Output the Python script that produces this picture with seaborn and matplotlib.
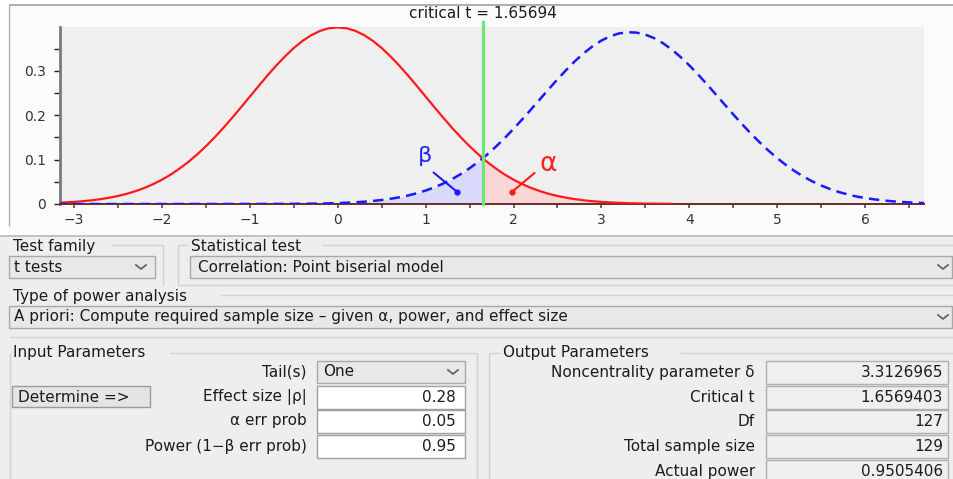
import matplotlib
matplotlib.use("Agg")
import matplotlib.pyplot as plt
import seaborn as sns
import pandas as pd
from matplotlib.patches import Rectangle

# ---------------- data ----------------
t_central = [-3.2, -3.1, -3.0, -2.9, -2.8, -2.7, -2.6, -2.5, -2.4, -2.3, -2.2, -2.1,
             -2.0, -1.9, -1.8, -1.7, -1.6, -1.5, -1.4, -1.3, -1.2, -1.1, -1.0, -0.9,
             -0.8, -0.7, -0.6, -0.5, -0.4, -0.3, -0.2, -0.1, 0.0, 0.1, 0.2, 0.3, 0.4,
             0.5, 0.6, 0.7, 0.8, 0.9, 1.0, 1.1, 1.2, 1.3, 1.4, 1.5, 1.6, 1.7, 1.8, 1.9,
             2.0, 2.1, 2.2, 2.3, 2.4, 2.5, 2.6, 2.7, 2.8, 2.9, 3.0, 3.1, 3.2, 3.3, 3.4,
             3.5, 3.6, 3.7, 3.8]
pdf_central = [0.0026, 0.0036, 0.0048, 0.0063, 0.0083, 0.0109, 0.0141, 0.0181, 0.0230,
               0.0290, 0.0362, 0.0448, 0.0548, 0.0664, 0.0798, 0.0948, 0.1117, 0.1302,
               0.1503, 0.1719, 0.1946, 0.2181, 0.2421, 0.2661, 0.2896, 0.3120, 0.3328,
               0.3516, 0.3677, 0.3807, 0.3903, 0.3962, 0.3981, 0.3962, 0.3903, 0.3807,
               0.3677, 0.3516, 0.3328, 0.3120, 0.2896, 0.2661, 0.2421, 0.2181, 0.1946,
               0.1719, 0.1503, 0.1302, 0.1117, 0.0948, 0.0798, 0.0664, 0.0548, 0.0448,
               0.0362, 0.0290, 0.0230, 0.0181, 0.0141, 0.0109, 0.0083, 0.0063, 0.0048,
               0.0036, 0.0026, 0.0019, 0.0014, 0.0010, 0.0007, 0.0005, 0.0004]

t_noncentral = [-3.2, -2.5, -2.0, -1.5, -1.0, -0.8, -0.6,
                -0.5, -0.4, -0.3, -0.2, -0.1, 0.0, 0.1, 0.2, 0.3, 0.4, 0.5, 0.6, 0.7,
                0.8, 0.9, 1.0, 1.1, 1.2, 1.3, 1.4, 1.5, 1.6, 1.7, 1.8, 1.9, 2.0, 2.1,
                2.2, 2.3, 2.4, 2.5, 2.6, 2.7, 2.8, 2.9, 3.0, 3.1, 3.2, 3.3, 3.4, 3.5,
                3.6, 3.7, 3.8, 3.9, 4.0, 4.1, 4.2, 4.3, 4.4, 4.5, 4.6, 4.7, 4.8, 4.9,
                5.0, 5.1, 5.2, 5.3, 5.4, 5.5, 5.6, 5.7, 5.8, 5.9, 6.0, 6.1, 6.2, 6.3,
                6.4, 6.5, 6.6, 6.7]
pdf_noncentral = [0.0, 0.0, 0.0, 0.0, 0.0001, 0.0002, 0.0003,
                  0.0004, 0.0006, 0.0008, 0.0011, 0.0015, 0.0021, 0.0029, 0.0039, 0.0052,
                  0.0069, 0.0090, 0.0117, 0.0151, 0.0192, 0.0242, 0.0303, 0.0376, 0.0461,
                  0.0560, 0.0675, 0.0806, 0.0952, 0.1115, 0.1294, 0.1487, 0.1694, 0.1910,
                  0.2134, 0.2361, 0.2589, 0.2810, 0.3023, 0.3222, 0.3401, 0.3557, 0.3685,
                  0.3782, 0.3845, 0.3872, 0.3863, 0.3818, 0.3738, 0.3625, 0.3483, 0.3314,
                  0.3125, 0.2918, 0.2700, 0.2474, 0.2246, 0.2020, 0.1800, 0.1589, 0.1390,
                  0.1204, 0.1033, 0.0878, 0.0739, 0.0616, 0.0509, 0.0417, 0.0338, 0.0271,
                  0.0216, 0.0170, 0.0135, 0.0106, 0.0082, 0.0063, 0.0048, 0.0036, 0.0027,
                  0.0020]

critical_t = 1.65694
pdf_central_at_crit = 0.1012
pdf_noncentral_at_crit = 0.1040

x_ticks = [-3, -2, -1, 0, 1, 2, 3, 4, 5, 6]
x_minor_ticks = [-2.5, -1.5, -0.5, 0.5, 1.5, 2.5, 3.5, 4.5, 5.5, 6.5]
y_ticks = [0.0, 0.1, 0.2, 0.3]
y_tick_labels = ["0", "0.1", "0.2", "0.3"]
y_minor_ticks = [0.05, 0.15, 0.25, 0.35]
chart_title = "critical t = 1.65694"

# GUI texts
test_family = "t tests"
statistical_test = "Correlation: Point biserial model"
analysis_type = "A priori: Compute required sample size \u2013 given \u03b1, power, and effect size"
input_labels = ["Tail(s)", "Effect size |\u03c1|", "\u03b1 err prob", "Power (1\u2212\u03b2 err prob)"]
input_values = ["One", "0.28", "0.05", "0.95"]
output_labels = ["Noncentrality parameter \u03b4", "Critical t", "Df", "Total sample size", "Actual power"]
output_values = ["3.3126965", "1.6569403", "127", "129", "0.9505406"]

# ---------------- figure ----------------
plt.rcParams["font.family"] = ["DejaVu Sans"]
plt.rcParams["lines.scale_dashes"] = False
W, H = 954, 479
fig = plt.figure(figsize=(W / 100, H / 100), dpi=100, facecolor="white")

# GUI overlay axis in pixel coordinates
g = fig.add_axes([0, 0, 1, 1], zorder=0)
g.set_xlim(0, W)
g.set_ylim(H, 0)
g.axis("off")

TXT = "#1c1c1c"
GUI_FS = 11
GROUP = "#d2d2d2"


def rect(x0, y0, x1, y1, fc, ec, lw=1.0, z=1):
    g.add_patch(Rectangle((x0, y0), x1 - x0, y1 - y0, facecolor=fc, edgecolor=ec, lw=lw, zorder=z))


def hline(x0, x1, y, c=GROUP, lw=1.0):
    g.plot([x0, x1], [y, y], color=c, lw=lw, solid_capstyle="butt", zorder=2)


def vline(x, y0, y1, c=GROUP, lw=1.0):
    g.plot([x, x], [y0, y1], color=c, lw=lw, solid_capstyle="butt", zorder=2)


def chevron(xc, yc):
    g.plot([xc - 5, xc, xc + 5], [yc - 2, yc + 2, yc - 2], color="#666666", lw=1.3, zorder=3)


def label(x, y, s, ha="left", fs=GUI_FS):
    g.text(x, y, s, ha=ha, va="center", fontsize=fs, color=TXT, zorder=4)


# chart panel
rect(0, 0, W, 236, "white", "none", z=0)
rect(9.5, 4.5, W + 2, 240, "#fbfbfb", "none", z=0)
hline(9.5, W, 4.5, c="#a0a0a0", lw=1.2)
vline(9.5, 4.5, 226, c="#b0b0b0", lw=1.0)
# GUI area
rect(0, 236, W, H, "#eeeeee", "none", z=0)
hline(0, W, 236, c="#b8b8b8", lw=1.2)

# Test family group
label(13, 246, "Test family")
hline(112, 163, 245)
vline(163, 245, 285)
rect(9, 256, 155, 278, "#e8e8e8", "#a8a8a8")
label(14, 267, test_family)
chevron(141, 267)

# Statistical test group
vline(178, 245, 285)
hline(178, 188, 245)
label(191, 246, "Statistical test")
hline(322, W, 245)
hline(178, W, 285)
rect(190, 256, W - 2, 278, "#e8e8e8", "#a8a8a8")
label(198, 267, statistical_test)
chevron(943, 267)

# Type of power analysis group
label(13, 296, "Type of power analysis")
hline(220, W, 295)
rect(9, 306, W - 2, 328, "#e8e8e8", "#a8a8a8")
label(14, 317, analysis_type)
chevron(943, 317)
hline(10, W, 337)

# Input parameters group
label(13, 353, "Input Parameters")
hline(170, 477, 353)
vline(10, 353, H)
vline(477, 353, H)
row_tops = [361, 386, 410, 435, 460]
for i, (lab, val) in enumerate(zip(input_labels, input_values)):
    top = row_tops[i]
    label(307, top + 11, lab, ha="right")
    if i == 0:
        rect(317, top, 465, top + 22, "#e8e8e8", "#a8a8a8")
        label(323, top + 11, val)
        chevron(453, top + 11)
    else:
        rect(317, top, 465, top + 23, "white", "#a0a0a0")
        label(456, top + 11.5, val, ha="right")
rect(12, 386, 150, 407, "#e4e4e4", "#9a9a9a")
label(18, 397, "Determine =>")

# Output parameters group
vline(489, 353, H)
hline(489, 500, 353)
label(503, 353, "Output Parameters")
hline(680, W, 353)
for i, (lab, val) in enumerate(zip(output_labels, output_values)):
    top = row_tops[i]
    label(755, top + 11.5, lab, ha="right")
    rect(766, top, 948, top + 23, "#efefef", "#b0b0b0")
    label(943, top + 11.5, val, ha="right")

# ---------------- the density chart ----------------
ax_left, ax_right, ax_top, ax_bot = 60, 924, 27, 204
ax = fig.add_axes([ax_left / W, 1 - ax_bot / H, (ax_right - ax_left) / W, (ax_bot - ax_top) / H], zorder=5)
ax.set_facecolor("#efefef")

df_c = pd.DataFrame({"t": t_central, "density": pdf_central})
df_n = pd.DataFrame({"t": t_noncentral, "density": pdf_noncentral})

# shaded beta / alpha areas
beta_x = [v for v in t_noncentral if v < critical_t] + [critical_t]
beta_y = [d for v, d in zip(t_noncentral, pdf_noncentral) if v < critical_t] + [pdf_noncentral_at_crit]
alpha_x = [critical_t] + [v for v in t_central if v > critical_t]
alpha_y = [pdf_central_at_crit] + [d for v, d in zip(t_central, pdf_central) if v > critical_t]
ax.fill_between(beta_x, 0, beta_y, color="#d9d9fb", lw=0, zorder=1)
ax.fill_between(alpha_x, 0, alpha_y, color="#fbd6d6", lw=0, zorder=1)

sns.lineplot(data=df_c, x="t", y="density", ax=ax, color="#ff1a1a", linewidth=1.6,
             estimator=None, sort=False, zorder=3)
sns.lineplot(data=df_n, x="t", y="density", ax=ax, color="#1a1aff", linewidth=1.8,
             estimator=None, sort=False, zorder=3)
ax.lines[-1].set_dashes((7.5, 4.5))

ax.axvline(critical_t, ymin=0, ymax=1.03, color="#6ee86e", lw=2.3, clip_on=False, zorder=4)

# beta / alpha annotations
ax.text(0.99, 0.108, "\u03b2", color="#2323ff", fontsize=16, ha="center", va="center", zorder=6)
ax.annotate("", xy=(1.36, 0.027), xytext=(1.09, 0.071),
            arrowprops=dict(arrowstyle="-", color="#1a1aff", lw=1.5, shrinkA=0, shrinkB=0), zorder=6)
ax.plot([1.36], [0.027], "o", color="#1a1aff", ms=3.5, zorder=6)
ax.text(2.40, 0.090, "\u03b1", color="#ff2020", fontsize=19, ha="center", va="center", zorder=6)
ax.annotate("", xy=(1.98, 0.027), xytext=(2.24, 0.070),
            arrowprops=dict(arrowstyle="-", color="#ff1a1a", lw=1.5, shrinkA=0, shrinkB=0), zorder=6)
ax.plot([1.98], [0.027], "o", color="#ff1a1a", ms=3.5, zorder=6)

ax.set_xlim(-3.16, 6.67)
ax.set_ylim(0, 0.399)
ax.set_xlabel("")
ax.set_ylabel("")
ax.set_xticks(x_ticks)
ax.set_xticks(x_minor_ticks, minor=True)
ax.set_yticks(y_ticks)
ax.set_yticklabels(y_tick_labels)
ax.set_yticks(y_minor_ticks, minor=True)
for s in ["top", "right"]:
    ax.spines[s].set_visible(False)
ax.spines["left"].set_color("#7a7a7a")
ax.spines["left"].set_linewidth(2.0)
ax.spines["bottom"].set_color("#6a2c2c")
ax.spines["bottom"].set_linewidth(1.4)
ax.tick_params(axis="y", which="both", direction="out", length=4, width=1.0, color="#222222",
               pad=6, labelsize=10, labelcolor="#333333")
ax.tick_params(axis="x", which="both", direction="out", length=3, width=1.4, color="#666666",
               pad=3.5, labelsize=10, labelcolor="#333333")
ax.grid(False)

fig.text(483 / W, 1 - 13 / H, chart_title, ha="center", va="center", fontsize=11, color="#1c1c1c")

fig.savefig("out.png", dpi=100, facecolor="white")
